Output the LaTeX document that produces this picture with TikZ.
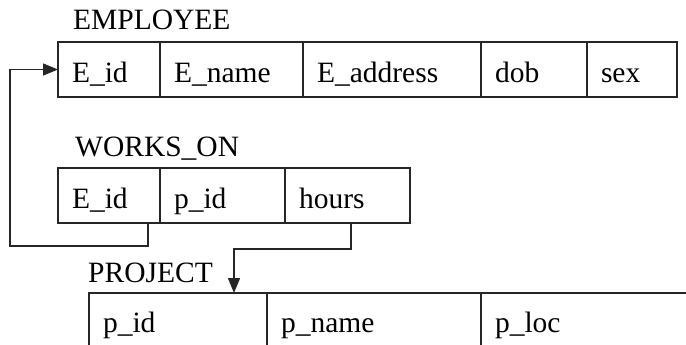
\documentclass[tikz,border=0pt]{standalone}
\usepackage{fontspec}
\setmainfont{Liberation Serif}
\usetikzlibrary{arrows.meta,calc}
\begin{document}
\begin{tikzpicture}[x=1pt,y=-1pt,
  font=\fontsize{29.5}{31}\selectfont,
  cell/.style={draw=black!85,line width=1.4pt,rectangle,anchor=north west,
    outer sep=0pt,inner xsep=14pt,inner ysep=0pt,text height=40pt,text depth=15pt,
    text width=#1-28pt,align=left,minimum height=55pt},
  pcell/.style={cell=#1,text height=39pt,text depth=16pt},
  title/.style={anchor=base west,inner sep=0pt},
  link/.style={draw=black!85,line width=1.4pt,-{Triangle[length=15pt,width=12pt]}}]
\useasboundingbox (0,0) rectangle (686,345);
\clip (0,0) rectangle (686,345);
% EMPLOYEE
\node[title] (tE) at (73,30) {EMPLOYEE};
\node[cell=102pt] (eE) at (58,42) {E\_id};
\node[cell=143pt] (eN) at (eE.north east) {E\_name};
\node[cell=178pt] (eA) at (eN.north east) {E\_address};
\node[cell=106pt] (eD) at (eA.north east) {dob};
\node[cell=90pt]  (eS) at (eD.north east) {sex};
% WORKS_ON
\node[title] (tW) at (75,156) {WORKS\_ON};
\node[cell=102pt] (wE) at (58,168) {E\_id};
\node[cell=125pt] (wP) at (wE.north east) {p\_id};
\node[cell=125pt] (wH) at (wP.north east) {hours};
% PROJECT
\node[title] (tP) at (88,282) {PROJECT};
\node[pcell=178pt] (pI) at (89,293) {p\_id};
\node[pcell=214pt] (pN) at (pI.north east) {p\_name};
\node[pcell=230pt] (pL) at (pN.north east) {p\_loc};
% connectors
\draw[link] ([xshift=-12pt]wE.south east) -- ++(0,23) -| ([xshift=-48pt]eE.west) -- (eE.west);
\draw[link] ([xshift=3.5pt]wH.south) -- ++(0,26) -| ([xshift=56pt]pI.north);
\end{tikzpicture}
\end{document}
